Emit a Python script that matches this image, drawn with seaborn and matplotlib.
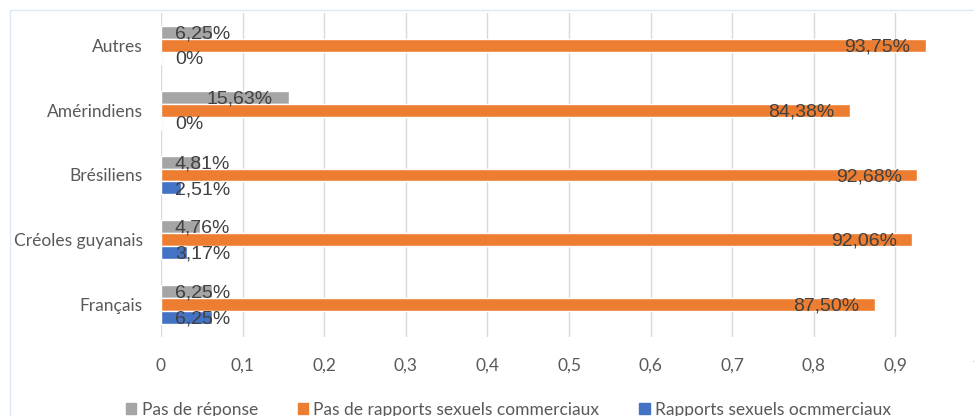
import matplotlib
matplotlib.use("Agg")
import matplotlib.pyplot as plt
import matplotlib.patches as mpatches
import pandas as pd
import seaborn as sns

# data (percent)
groups = ['Autres', 'Amérindiens', 'Brésiliens', 'Créoles guyanais', 'Français']
series = ['Pas de réponse', 'Pas de rapports sexuels commerciaux', 'Rapports sexuels ocmmerciaux']
pas_reponse = [6.25, 15.63, 4.81, 4.76, 6.25]
pas_rapports = [93.75, 84.38, 92.68, 92.06, 87.50]
rapports = [0.0, 0.0, 2.51, 3.17, 6.25]
colors = ['#a5a5a5', '#ed7d31', '#4472c4']
x_ticks = [0, 0.1, 0.2, 0.3, 0.4, 0.5, 0.6, 0.7, 0.8, 0.9, 1]
x_ticklabels = ['0', '0,1', '0,2', '0,3', '0,4', '0,5', '0,6', '0,7', '0,8', '0,9', '1']

rows = []
for name, vals in zip(series, [pas_reponse, pas_rapports, rapports]):
    for g, v in zip(groups, vals):
        rows.append({'groupe': g, 'serie': name, 'valeur': v / 100})
df = pd.DataFrame(rows)

sns.set_style("white")
plt.rcParams['font.family'] = ['Lato', 'DejaVu Sans']

fig = plt.figure(figsize=(9.74, 4.16), dpi=100)
ax = fig.add_axes([161 / 974, 1 - 337 / 416, 816 / 974, 324 / 416])

sns.barplot(data=df, x='valeur', y='groupe', hue='serie', order=groups,
            hue_order=series, palette=colors, orient='h', width=0.6,
            saturation=1, ax=ax, legend=False)

ax.set_xlim(0, 1)
ax.set_ylim(4.5, -0.5)
ax.set_xticks(x_ticks)
ax.set_xticklabels(x_ticklabels)
ax.set_xlabel('')
ax.set_ylabel('')
ax.grid(axis='x', color='#d9d9d9', linewidth=1)
ax.set_axisbelow(True)
for s in ax.spines.values():
    s.set_visible(False)
ax.tick_params(axis='both', length=0, labelsize=12.5, labelcolor='#595959')
ax.tick_params(axis='x', pad=15)
ax.tick_params(axis='y', pad=13)

# data labels
for cont, vals in zip(ax.containers, [pas_reponse, pas_rapports, rapports]):
    for bar, v in zip(cont, vals):
        yc = bar.get_y() + bar.get_height() / 2 + 0.025
        txt = '0%' if v == 0 else f'{v:.2f}%'.replace('.', ',')
        end = v / 100 - 0.019
        if end - 0.067 < 0.017:
            ax.text(0.017, yc, txt, ha='left', va='center', fontsize=14,
                    color='#404040', family='Liberation Sans')
        else:
            ax.text(end, yc, txt, ha='right', va='center', fontsize=14,
                    color='#404040', family='Liberation Sans')

# chart frame
fig.patches.append(mpatches.Rectangle((10 / 974, -0.1), 1.1, 1 - 10 / 416 + 0.1,
                                      transform=fig.transFigure, fill=False,
                                      edgecolor='#dde8f5', linewidth=1))

handles = [mpatches.Patch(color=c, label=s) for c, s in zip(colors, series)]
fig.legend(handles=handles, loc='center', bbox_to_anchor=(0.522, 0.015), ncol=3,
           frameon=False, fontsize=12.5, labelcolor='#595959', handlelength=0.6,
           handleheight=0.6, handletextpad=0.3, columnspacing=2.3)

fig.savefig('out.png', dpi=100)
